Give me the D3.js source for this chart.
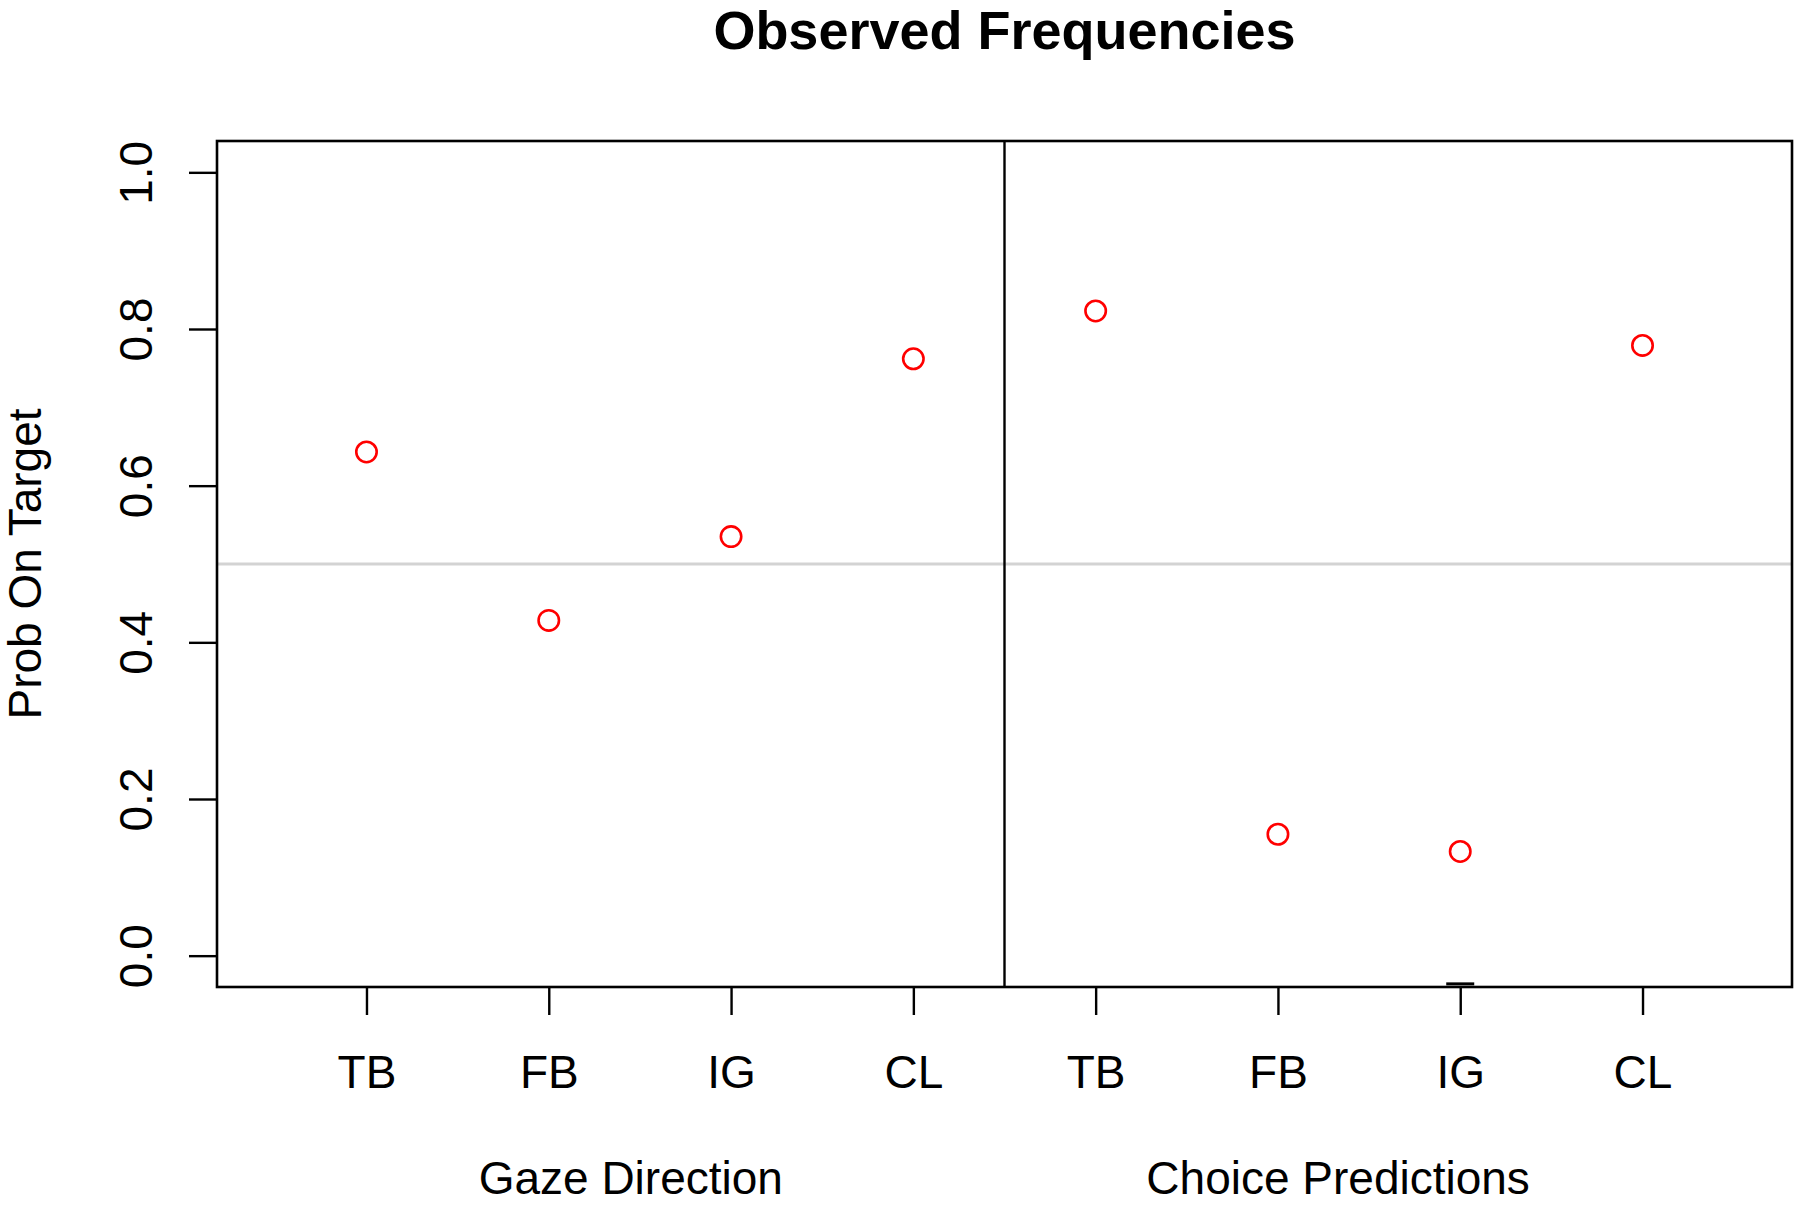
<!DOCTYPE html>
<html>
<head>
<meta charset="utf-8">
<script src="https://cdn.jsdelivr.net/npm/d3@7"></script>
<style>
  html, body { margin: 0; padding: 0; background: #fff; }
  text { font-family: "Liberation Sans", Arial, Helvetica, sans-serif; fill: #000; }
</style>
</head>
<body>
<div class="chart"></div>
<script>
// data
const categories = ["TB", "FB", "IG", "CL", "TB", "FB", "IG", "CL"];
const gazeValues = [0.643, 0.428, 0.535, 0.762];
const choiceValues = [0.823, 0.155, 0.133, 0.779];
const yTicks = [0.0, 0.2, 0.4, 0.6, 0.8, 1.0];
const panelTitles = [
  { label: "Gaze Direction", at: 2.45 },
  { label: "Choice Predictions", at: 6.33 }
];
const referenceLevel = 0.5;
const dividerAt = 4.5;
// short dash drawn on the IG position of the right panel, just under zero
const dashMarks = [{ pos: 7, value: -0.036 }];

const W = 1800, H = 1205;
const margin = { top: 141, right: 8, bottom: 218, left: 217 };

const svg = d3.select(".chart")
  .append("svg")
  .attr("width", W)
  .attr("height", H);

const xScale = d3.scaleLinear()
  .domain([0.18, 8.82])
  .range([margin.left, W - margin.right]);

const yScale = d3.scaleLinear()
  .domain([-0.04, 1.04])
  .range([H - margin.bottom, margin.top]);

const points = gazeValues.map((v, i) => ({ pos: i + 1, value: v }))
  .concat(choiceValues.map((v, i) => ({ pos: i + 5, value: v })));

// reference line at 0.5
svg.append("line")
  .attr("x1", xScale.range()[0])
  .attr("x2", xScale.range()[1])
  .attr("y1", yScale(referenceLevel))
  .attr("y2", yScale(referenceLevel))
  .attr("stroke", "#d3d3d3")
  .attr("stroke-width", 2.8);

// panel divider
svg.append("line")
  .attr("x1", xScale(dividerAt))
  .attr("x2", xScale(dividerAt))
  .attr("y1", yScale.range()[0])
  .attr("y2", yScale.range()[1])
  .attr("stroke", "#000")
  .attr("stroke-width", 2.4);

// points
svg.selectAll("circle.pt")
  .data(points)
  .join("circle")
  .attr("class", "pt")
  .attr("cx", d => xScale(d.pos))
  .attr("cy", d => yScale(d.value))
  .attr("r", 10.2)
  .attr("fill", "none")
  .attr("stroke", "#ff0000")
  .attr("stroke-width", 2.6);

svg.selectAll("line.dash")
  .data(dashMarks)
  .join("line")
  .attr("class", "dash")
  .attr("x1", d => xScale(d.pos) - 14)
  .attr("x2", d => xScale(d.pos) + 14)
  .attr("y1", d => yScale(d.value))
  .attr("y2", d => yScale(d.value))
  .attr("stroke", "#000")
  .attr("stroke-width", 3);

//=== Axes ===
const xAxis = d3.axisBottom(xScale)
  .tickValues(d3.range(1, categories.length + 1))
  .tickFormat(d => categories[d - 1])
  .tickSize(28)
  .tickSizeOuter(0);

const yAxis = d3.axisLeft(yScale)
  .tickValues(yTicks)
  .tickFormat(d3.format(".1f"))
  .tickSize(28)
  .tickSizeOuter(0);

const gx = svg.append("g")
  .attr("class", "axis x-axis")
  .attr("transform", `translate(0, ${yScale.range()[0]})`)
  .call(xAxis);
gx.select(".domain").remove();
gx.selectAll(".tick line").attr("stroke-width", 2.4);
gx.selectAll(".tick text")
  .attr("font-size", 46)
  .attr("dy", null)
  .attr("y", 101);

const gy = svg.append("g")
  .attr("class", "axis y-axis")
  .attr("transform", `translate(${xScale.range()[0]}, 0)`)
  .call(yAxis);
gy.select(".domain").remove();
gy.selectAll(".tick line")
  .attr("x2", -28)
  .attr("stroke-width", 2.4);
gy.selectAll(".tick text")
  .attr("font-size", 46)
  .attr("x", null).attr("dy", null)
  .attr("text-anchor", "middle")
  .attr("transform", "translate(-65, 0) rotate(-90)");

// frame
svg.append("rect")
  .attr("x", xScale.range()[0])
  .attr("y", yScale.range()[1])
  .attr("width", xScale.range()[1] - xScale.range()[0])
  .attr("height", yScale.range()[0] - yScale.range()[1])
  .attr("fill", "none")
  .attr("stroke", "#000")
  .attr("stroke-width", 2.6);

// titles
svg.append("text")
  .attr("x", (xScale.range()[0] + xScale.range()[1]) / 2)
  .attr("y", 49)
  .attr("text-anchor", "middle")
  .attr("font-size", 54)
  .attr("font-weight", "bold")
  .text("Observed Frequencies");

svg.selectAll("text.panel")
  .data(panelTitles)
  .join("text")
  .attr("class", "panel")
  .attr("x", d => xScale(d.at))
  .attr("y", 1194)
  .attr("text-anchor", "middle")
  .attr("font-size", 46)
  .text(d => d.label);

svg.append("text")
  .attr("transform", `translate(41, ${yScale(referenceLevel)}) rotate(-90)`)
  .attr("text-anchor", "middle")
  .attr("font-size", 46)
  .text("Prob On Target");
</script>
</body>
</html>
